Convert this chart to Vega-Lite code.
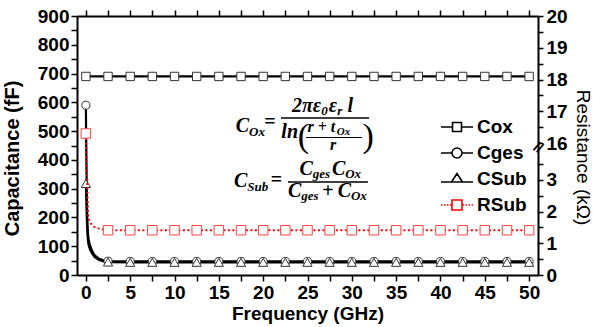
{
  "$schema": "https://vega.github.io/schema/vega-lite/v6.json",
  "width": 461,
  "height": 259,
  "autosize": {"type": "none"},
  "padding": {"left": 77, "top": 16, "right": 55, "bottom": 52},
  "background": "white",
  "datasets": {
    "one": [{}],
    "cap": [
      {"f": 0, "s": "Cox", "v": 690}, {"f": 2.5, "s": "Cox", "v": 690}, {"f": 5, "s": "Cox", "v": 690}, {"f": 7.5, "s": "Cox", "v": 690},
      {"f": 10, "s": "Cox", "v": 690}, {"f": 12.5, "s": "Cox", "v": 690}, {"f": 15, "s": "Cox", "v": 690}, {"f": 17.5, "s": "Cox", "v": 690},
      {"f": 20, "s": "Cox", "v": 690}, {"f": 22.5, "s": "Cox", "v": 690}, {"f": 25, "s": "Cox", "v": 690}, {"f": 27.5, "s": "Cox", "v": 690},
      {"f": 30, "s": "Cox", "v": 690}, {"f": 32.5, "s": "Cox", "v": 690}, {"f": 35, "s": "Cox", "v": 690}, {"f": 37.5, "s": "Cox", "v": 690},
      {"f": 40, "s": "Cox", "v": 690}, {"f": 42.5, "s": "Cox", "v": 690}, {"f": 45, "s": "Cox", "v": 690}, {"f": 47.5, "s": "Cox", "v": 690},
      {"f": 50, "s": "Cox", "v": 690},
      {"f": 0, "s": "Cges", "v": 590}, {"f": 0.05, "s": "Cges", "v": 420}, {"f": 0.1, "s": "Cges", "v": 290}, {"f": 0.15, "s": "Cges", "v": 210},
      {"f": 0.2, "s": "Cges", "v": 165}, {"f": 0.25, "s": "Cges", "v": 140}, {"f": 0.3, "s": "Cges", "v": 125}, {"f": 0.4, "s": "Cges", "v": 110},
      {"f": 0.5, "s": "Cges", "v": 100}, {"f": 0.7, "s": "Cges", "v": 84}, {"f": 1, "s": "Cges", "v": 68}, {"f": 1.5, "s": "Cges", "v": 56},
      {"f": 2, "s": "Cges", "v": 51}, {"f": 2.5, "s": "Cges", "v": 48}, {"f": 5, "s": "Cges", "v": 47}, {"f": 7.5, "s": "Cges", "v": 47},
      {"f": 10, "s": "Cges", "v": 47}, {"f": 12.5, "s": "Cges", "v": 47}, {"f": 15, "s": "Cges", "v": 47}, {"f": 17.5, "s": "Cges", "v": 47},
      {"f": 20, "s": "Cges", "v": 47}, {"f": 22.5, "s": "Cges", "v": 47}, {"f": 25, "s": "Cges", "v": 47}, {"f": 27.5, "s": "Cges", "v": 47},
      {"f": 30, "s": "Cges", "v": 47}, {"f": 32.5, "s": "Cges", "v": 47}, {"f": 35, "s": "Cges", "v": 47}, {"f": 37.5, "s": "Cges", "v": 47},
      {"f": 40, "s": "Cges", "v": 47}, {"f": 42.5, "s": "Cges", "v": 47}, {"f": 45, "s": "Cges", "v": 47}, {"f": 47.5, "s": "Cges", "v": 47},
      {"f": 50, "s": "Cges", "v": 47},
      {"f": 0, "s": "CSub", "v": 318}, {"f": 0.05, "s": "CSub", "v": 261}, {"f": 0.1, "s": "CSub", "v": 204}, {"f": 0.15, "s": "CSub", "v": 161},
      {"f": 0.2, "s": "CSub", "v": 133}, {"f": 0.25, "s": "CSub", "v": 117}, {"f": 0.3, "s": "CSub", "v": 106}, {"f": 0.4, "s": "CSub", "v": 95},
      {"f": 0.5, "s": "CSub", "v": 87}, {"f": 0.7, "s": "CSub", "v": 75}, {"f": 1, "s": "CSub", "v": 62}, {"f": 1.5, "s": "CSub", "v": 52},
      {"f": 2, "s": "CSub", "v": 47}, {"f": 2.5, "s": "CSub", "v": 45}, {"f": 5, "s": "CSub", "v": 44}, {"f": 7.5, "s": "CSub", "v": 44},
      {"f": 10, "s": "CSub", "v": 44}, {"f": 12.5, "s": "CSub", "v": 44}, {"f": 15, "s": "CSub", "v": 44}, {"f": 17.5, "s": "CSub", "v": 44},
      {"f": 20, "s": "CSub", "v": 44}, {"f": 22.5, "s": "CSub", "v": 44}, {"f": 25, "s": "CSub", "v": 44}, {"f": 27.5, "s": "CSub", "v": 44},
      {"f": 30, "s": "CSub", "v": 44}, {"f": 32.5, "s": "CSub", "v": 44}, {"f": 35, "s": "CSub", "v": 44}, {"f": 37.5, "s": "CSub", "v": 44},
      {"f": 40, "s": "CSub", "v": 44}, {"f": 42.5, "s": "CSub", "v": 44}, {"f": 45, "s": "CSub", "v": 44}, {"f": 47.5, "s": "CSub", "v": 44},
      {"f": 50, "s": "CSub", "v": 44}
    ],
    "res": [
      {"f": 0, "s": "RSub", "r": 16.3}, {"f": 0.05, "s": "RSub", "r": 9}, {"f": 0.1, "s": "RSub", "r": 3.6}, {"f": 0.15, "s": "RSub", "r": 2.9},
      {"f": 0.2, "s": "RSub", "r": 2.3}, {"f": 0.25, "s": "RSub", "r": 1.95}, {"f": 0.3, "s": "RSub", "r": 1.8}, {"f": 0.45, "s": "RSub", "r": 1.67},
      {"f": 0.7, "s": "RSub", "r": 1.57}, {"f": 1, "s": "RSub", "r": 1.51}, {"f": 1.5, "s": "RSub", "r": 1.46}, {"f": 2, "s": "RSub", "r": 1.43},
      {"f": 2.5, "s": "RSub", "r": 1.41}, {"f": 5, "s": "RSub", "r": 1.41}, {"f": 7.5, "s": "RSub", "r": 1.41}, {"f": 10, "s": "RSub", "r": 1.41},
      {"f": 12.5, "s": "RSub", "r": 1.41}, {"f": 15, "s": "RSub", "r": 1.41}, {"f": 17.5, "s": "RSub", "r": 1.41}, {"f": 20, "s": "RSub", "r": 1.41},
      {"f": 22.5, "s": "RSub", "r": 1.41}, {"f": 25, "s": "RSub", "r": 1.41}, {"f": 27.5, "s": "RSub", "r": 1.41}, {"f": 30, "s": "RSub", "r": 1.41},
      {"f": 32.5, "s": "RSub", "r": 1.41}, {"f": 35, "s": "RSub", "r": 1.41}, {"f": 37.5, "s": "RSub", "r": 1.41}, {"f": 40, "s": "RSub", "r": 1.41},
      {"f": 42.5, "s": "RSub", "r": 1.41}, {"f": 45, "s": "RSub", "r": 1.41}, {"f": 47.5, "s": "RSub", "r": 1.41}, {"f": 50, "s": "RSub", "r": 1.41}
    ]
  },
  "config": {
    "view": {"stroke": null},
    "axis": {
      "grid": false, "domainColor": "black", "domainWidth": 2, "tickColor": "black", "tickWidth": 1.5,
      "labelFont": "Liberation Sans", "labelFontWeight": "bold", "labelFontSize": 19, "labelColor": "black",
      "titleFont": "Liberation Sans", "titleFontWeight": "bold", "titleFontSize": 20, "titleColor": "black",
      "labelOverlap": false, "labelFlush": false
    },
    "text": {"font": "Liberation Serif", "fontStyle": "italic", "fontWeight": "bold", "fontSize": 19, "align": "left", "baseline": "alphabetic", "color": "black"},
    "rule": {"color": "black", "strokeWidth": 1.5}
  },
  "resolve": {"scale": {"y": "independent"}, "axis": {"x": "independent", "y": "independent"}},
  "layer": [
    {
      "layer": [
        {
          "data": {"name": "cap"},
          "mark": {"type": "line", "strokeWidth": 2.2},
          "encoding": {
            "x": {"field": "f", "type": "quantitative",
              "scale": {"domain": [-1, 51], "nice": false, "zero": false},
              "axis": {"orient": "bottom", "title": "Frequency (GHz)", "titleFontSize": 19, "titlePadding": 2, "labelOverlap": false, "tickCount": 100, "format": "d",
                "values": [0, 2.5, 5, 7.5, 10, 12.5, 15, 17.5, 20, 22.5, 25, 27.5, 30, 32.5, 35, 37.5, 40, 42.5, 45, 47.5, 50],
                "labelExpr": "datum.value % 5 === 0 ? datum.label : ''", "tickSize": 6, "labelPadding": 2,
                "encode": {"ticks": {"update": {"y2": {"signal": "datum.value % 5 === 0 ? 6 : 4"}}}}}},
            "y": {"field": "v", "type": "quantitative",
              "scale": {"domain": [0, 900], "nice": false, "zero": false},
              "axis": {"orient": "left", "title": "Capacitance (fF)", "titlePadding": 15, "titleY": 142, "labelOverlap": false, "tickCount": 100, "format": "d",
                "values": [0, 50, 100, 150, 200, 250, 300, 350, 400, 450, 500, 550, 600, 650, 700, 750, 800, 850, 900],
                "labelExpr": "datum.value % 100 === 0 ? datum.label : ''", "tickSize": 6, "labelPadding": 2,
                "encode": {"ticks": {"update": {"x2": {"signal": "datum.value % 100 === 0 ? -6 : -3"}}}}}},
            "color": {"field": "s", "type": "nominal",
              "scale": {"domain": ["Cox", "Cges", "CSub", "RSub"], "range": ["black", "black", "black", "#ff0000"]},
              "legend": {"orient": "none", "legendX": 369, "legendY": 100, "title": null, "padding": 0,
                "symbolSize": 400, "symbolStrokeWidth": 1.6, "labelFont": "Liberation Sans", "labelFontSize": 19,
                "labelFontWeight": "bold", "labelColor": "black", "labelOffset": 9, "rowPadding": 5,
                "encode": {"symbols": {"update": {
                  "shape": {"signal": "datum.value === 'Cox' ? 'M-1.6,0H-0.45M0.45,0H1.6M-0.45,-0.45H0.45V0.45H-0.45Z' : datum.value === 'Cges' ? 'M-1.6,0H-0.5M0.5,0H1.6M-0.5,0A0.5,0.5,0,1,0,0.5,0A0.5,0.5,0,1,0,-0.5,0Z' : datum.value === 'CSub' ? 'M-1.6,0.3H-0.55M0.55,0.3H1.6M-0.55,0.3L0,-0.55L0.55,0.3Z' : 'M-1.6,0H-1.45M-1.3,0H-1.15M-1,0H-0.85M-0.7,0H-0.55M0.55,0H0.7M0.85,0H1M1.15,0H1.3M1.45,0H1.6M-0.5,-0.5H0.5V0.5H-0.5Z'"},
                  "fill": {"value": "white"}, "fillOpacity": {"value": 1}, "opacity": {"value": 1},
                  "stroke": {"signal": "datum.value === 'RSub' ? '#ff0000' : 'black'"}
                }}}}
            }
          }
        },
        {
          "data": {"name": "cap"},
          "transform": [{"filter": "datum.s === 'Cox'"}],
          "mark": {"type": "point", "shape": "square", "filled": true, "fill": "white", "stroke": "#333333", "strokeWidth": 1, "size": 70, "opacity": 1},
          "encoding": {"x": {"field": "f", "type": "quantitative"}, "y": {"field": "v", "type": "quantitative"}}
        },
        {
          "data": {"name": "cap"},
          "transform": [{"filter": "datum.s === 'Cges' && datum.f % 2.5 === 0"}],
          "mark": {"type": "point", "shape": "circle", "filled": true, "fill": "white", "stroke": "#333333", "strokeWidth": 1, "size": 65, "opacity": 1},
          "encoding": {"x": {"field": "f", "type": "quantitative"}, "y": {"field": "v", "type": "quantitative"}}
        },
        {
          "data": {"name": "cap"},
          "transform": [{"filter": "datum.s === 'CSub' && datum.f % 2.5 === 0"}],
          "mark": {"type": "point", "shape": "triangle-up", "filled": true, "fill": "white", "stroke": "#333333", "strokeWidth": 1, "size": 85, "opacity": 1},
          "encoding": {"x": {"field": "f", "type": "quantitative"}, "y": {"field": "v", "type": "quantitative"}}
        },
        {"data": {"name": "one"}, "mark": {"type": "text", "text": "C", "fontSize": 20}, "encoding": {"x": {"datum": 16.9}, "y": {"datum": 496.9}}},
        {"data": {"name": "one"}, "mark": {"type": "text", "text": "Ox", "fontSize": 13}, "encoding": {"x": {"datum": 18.4}, "y": {"datum": 484}}},
        {"data": {"name": "one"}, "mark": {"type": "text", "text": "=", "align": "center", "fontStyle": "normal", "fontSize": 20}, "encoding": {"x": {"datum": 20.77}, "y": {"datum": 510.8}}},
        {"data": {"name": "one"}, "mark": {"type": "rule"}, "encoding": {"x": {"datum": 22.01}, "x2": {"datum": 31.94}, "y": {"datum": 545.6}}},
        {"data": {"name": "one"}, "mark": {"type": "text", "text": "2π", "fontSize": 20}, "encoding": {"x": {"datum": 23.25}, "y": {"datum": 566.4}}},
        {"data": {"name": "one"}, "mark": {"type": "text", "text": "ε", "fontSize": 20}, "encoding": {"x": {"datum": 25.6}, "y": {"datum": 566.4}}},
        {"data": {"name": "one"}, "mark": {"type": "text", "text": "0", "fontSize": 13}, "encoding": {"x": {"datum": 26.55}, "y": {"datum": 557}}},
        {"data": {"name": "one"}, "mark": {"type": "text", "text": "ε", "fontSize": 20}, "encoding": {"x": {"datum": 27.4}, "y": {"datum": 566.4}}},
        {"data": {"name": "one"}, "mark": {"type": "text", "text": "r", "fontSize": 13}, "encoding": {"x": {"datum": 28.35}, "y": {"datum": 557}}},
        {"data": {"name": "one"}, "mark": {"type": "text", "text": "l", "fontSize": 20}, "encoding": {"x": {"datum": 29.5}, "y": {"datum": 566.4}}},
        {"data": {"name": "one"}, "mark": {"type": "text", "text": "ln", "fontSize": 20}, "encoding": {"x": {"datum": 22.05}, "y": {"datum": 476.1}}},
        {"data": {"name": "one"}, "mark": {"type": "text", "text": "(", "fontSize": 34, "fontStyle": "normal", "fontWeight": "normal"}, "encoding": {"x": {"datum": 23.9}, "y": {"datum": 445}}},
        {"data": {"name": "one"}, "mark": {"type": "text", "text": "r + t", "fontSize": 16}, "encoding": {"x": {"datum": 25.0}, "y": {"datum": 496}}},
        {"data": {"name": "one"}, "mark": {"type": "text", "text": "Ox", "fontSize": 11}, "encoding": {"x": {"datum": 28.3}, "y": {"datum": 488}}},
        {"data": {"name": "one"}, "mark": {"type": "rule", "strokeWidth": 1.2}, "encoding": {"x": {"datum": 24.83}, "x2": {"datum": 31.15}, "y": {"datum": 477.8}}},
        {"data": {"name": "one"}, "mark": {"type": "text", "text": "r", "fontSize": 16, "align": "center"}, "encoding": {"x": {"datum": 27.88}, "y": {"datum": 434}}},
        {"data": {"name": "one"}, "mark": {"type": "text", "text": ")", "fontSize": 34, "fontStyle": "normal", "fontWeight": "normal"}, "encoding": {"x": {"datum": 31.2}, "y": {"datum": 445}}},
        {"data": {"name": "one"}, "mark": {"type": "text", "text": "C", "fontSize": 20}, "encoding": {"x": {"datum": 16.7}, "y": {"datum": 305.8}}},
        {"data": {"name": "one"}, "mark": {"type": "text", "text": "Sub", "fontSize": 13}, "encoding": {"x": {"datum": 18.2}, "y": {"datum": 292.5}}},
        {"data": {"name": "one"}, "mark": {"type": "text", "text": "=", "align": "center", "fontStyle": "normal", "fontSize": 20}, "encoding": {"x": {"datum": 21.5}, "y": {"datum": 309.3}}},
        {"data": {"name": "one"}, "mark": {"type": "rule"}, "encoding": {"x": {"datum": 22.8}, "x2": {"datum": 31.82}, "y": {"datum": 323.2}}},
        {"data": {"name": "one"}, "mark": {"type": "text", "text": "C", "fontSize": 20}, "encoding": {"x": {"datum": 24.1}, "y": {"datum": 347.5}}},
        {"data": {"name": "one"}, "mark": {"type": "text", "text": "ges", "fontSize": 13}, "encoding": {"x": {"datum": 25.6}, "y": {"datum": 338}}},
        {"data": {"name": "one"}, "mark": {"type": "text", "text": "C", "fontSize": 20}, "encoding": {"x": {"datum": 27.75}, "y": {"datum": 347.5}}},
        {"data": {"name": "one"}, "mark": {"type": "text", "text": "Ox", "fontSize": 13}, "encoding": {"x": {"datum": 29.25}, "y": {"datum": 338}}},
        {"data": {"name": "one"}, "mark": {"type": "text", "text": "C", "fontSize": 20}, "encoding": {"x": {"datum": 22.8}, "y": {"datum": 271}}},
        {"data": {"name": "one"}, "mark": {"type": "text", "text": "ges", "fontSize": 13}, "encoding": {"x": {"datum": 24.3}, "y": {"datum": 261.5}}},
        {"data": {"name": "one"}, "mark": {"type": "text", "text": "+", "align": "center", "fontStyle": "normal", "fontSize": 20}, "encoding": {"x": {"datum": 27.3}, "y": {"datum": 271}}},
        {"data": {"name": "one"}, "mark": {"type": "text", "text": "C", "fontSize": 20}, "encoding": {"x": {"datum": 28.4}, "y": {"datum": 271}}},
        {"data": {"name": "one"}, "mark": {"type": "text", "text": "Ox", "fontSize": 13}, "encoding": {"x": {"datum": 29.9}, "y": {"datum": 261.5}}},
        {"data": {"name": "one"}, "mark": {"type": "text", "text": "//", "font": "Liberation Sans", "fontStyle": "normal", "fontWeight": "bold", "fontSize": 14, "angle": 30, "align": "center", "baseline": "middle"}, "encoding": {"x": {"datum": 51}, "y": {"datum": 441}}}
      ]
    },
    {
      "layer": [
        {
          "data": {"name": "res"},
          "mark": {"type": "line", "strokeWidth": 2, "strokeDash": [2, 2.5]},
          "encoding": {
            "x": {"field": "f", "type": "quantitative",
              "scale": {"domain": [-1, 51], "nice": false, "zero": false},
              "axis": {"orient": "top", "title": null, "labels": false, "tickSize": 6, "tickCount": 100,
                "values": [0, 2.5, 5, 7.5, 10, 12.5, 15, 17.5, 20, 22.5, 25, 27.5, 30, 32.5, 35, 37.5, 40, 42.5, 45, 47.5, 50],
                "encode": {"ticks": {"update": {"y2": {"signal": "datum.value % 5 === 0 ? 6 : 4"}}}}}},
            "y": {"field": "r", "type": "quantitative",
              "scale": {"domain": [0, 4, 16, 20], "range": [259, 132, 127, 0], "nice": false, "zero": false},
              "axis": {"orient": "right", "title": "Resistance (kΩ)", "titleFontWeight": "normal", "titleFontSize": 19, "titlePadding": 5, "titleY": 141, "labelOverlap": false, "tickCount": 100, "format": "d",
                "values": [0, 0.5, 1, 1.5, 2, 2.5, 3, 3.5, 16, 16.5, 17, 17.5, 18, 18.5, 19, 19.5, 20],
                "labelExpr": "datum.value % 1 === 0 ? datum.label : ''", "tickSize": 5, "labelPadding": 3,
                "encode": {"ticks": {"update": {"x2": {"signal": "datum.value % 1 === 0 ? 5 : 2"}}}}}},
            "color": {"field": "s", "type": "nominal",
              "scale": {"domain": ["Cox", "Cges", "CSub", "RSub"], "range": ["black", "black", "black", "#ff0000"]}}
          }
        },
        {
          "data": {"name": "res"},
          "transform": [{"filter": "datum.f % 2.5 === 0"}],
          "mark": {"type": "point", "shape": "square", "filled": true, "fill": "white", "stroke": "#ff4040", "strokeWidth": 1, "size": 90, "opacity": 1},
          "encoding": {"x": {"field": "f", "type": "quantitative"}, "y": {"field": "r", "type": "quantitative", "scale": {"domain": [0, 4, 16, 20], "range": [259, 132, 127, 0], "nice": false, "zero": false}}}
        }
      ]
    }
  ]
}
